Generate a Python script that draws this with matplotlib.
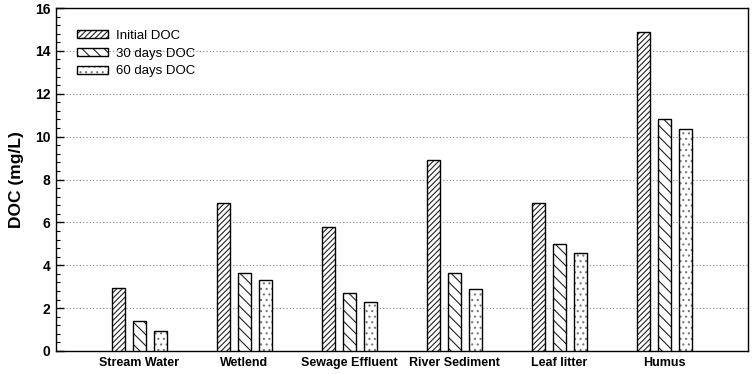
import matplotlib
matplotlib.use("Agg")
import matplotlib.pyplot as plt
import numpy as np
from matplotlib.ticker import MultipleLocator
from matplotlib.patches import Patch

plt.rcParams['font.family'] = ['Liberation Sans', 'DejaVu Sans']
plt.rcParams['hatch.linewidth'] = 0.8

categories = ["Stream Water", "Wetlend", "Sewage Effluent", "River Sediment", "Leaf litter", "Humus"]
initial_doc = [2.95, 6.9, 5.8, 8.9, 6.9, 14.9]
days30_doc = [1.4, 3.65, 2.7, 3.65, 5.0, 10.8]
days60_doc = [0.92, 3.3, 2.3, 2.9, 4.55, 10.35]
series_labels = ["Initial DOC", "30 days DOC", "60 days DOC"]

fig = plt.figure(figsize=(7.54, 3.74), dpi=100)
ax = fig.add_axes([0.0743, 0.0615, 0.9177, 0.9171])

x = np.arange(len(categories))
w = 0.125
off = 0.2
hatches = ['//////', '\\\\\\', '...']
hatch_colors = ['#222222', '#222222', '#777777']
handles = []
for i, (vals, lab, h, hc) in enumerate(zip([initial_doc, days30_doc, days60_doc], series_labels, hatches, hatch_colors)):
    ax.bar(x + (i - 1) * off, vals, width=w, facecolor='white', edgecolor=hc,
           hatch=h, linewidth=0, zorder=3)
    ax.bar(x + (i - 1) * off, vals, width=w, facecolor='none', edgecolor='black',
           linewidth=1.0, zorder=4)
    handles.append((Patch(facecolor='white', edgecolor=hc, hatch=h, linewidth=0),
                    Patch(facecolor='none', edgecolor='black', linewidth=1.0)))

ax.set_xlim(-0.795, 5.795)
ax.set_ylim(0, 16)
ax.yaxis.set_major_locator(MultipleLocator(2))
ax.yaxis.set_minor_locator(MultipleLocator(0.4))
ax.grid(axis='y', which='major', linestyle=(0, (1, 2)), color='#888888', linewidth=0.8, zorder=0)
ax.tick_params(axis='y', which='major', direction='in', length=6, width=1, labelsize=10, pad=4)
ax.tick_params(axis='y', which='minor', direction='in', length=3, width=0.8)
ax.tick_params(axis='x', which='both', length=0, labelsize=9, pad=4)
ax.set_xticks(x)
ax.set_xticklabels(categories, fontweight='bold')
for t in ax.get_yticklabels():
    t.set_fontweight('bold')
ax.set_ylabel("DOC (mg/L)", fontsize=12.5, fontweight='bold', labelpad=8)
for s in ax.spines.values():
    s.set_linewidth(1.0)

leg = ax.legend(handles, series_labels, loc='upper left', frameon=False, fontsize=9.5,
                handlelength=2.35, handleheight=0.55, handletextpad=0.6, labelspacing=0.45,
                bbox_to_anchor=(0.03, 0.937), borderaxespad=0, borderpad=0)

fig.savefig("out.png", dpi=100)
